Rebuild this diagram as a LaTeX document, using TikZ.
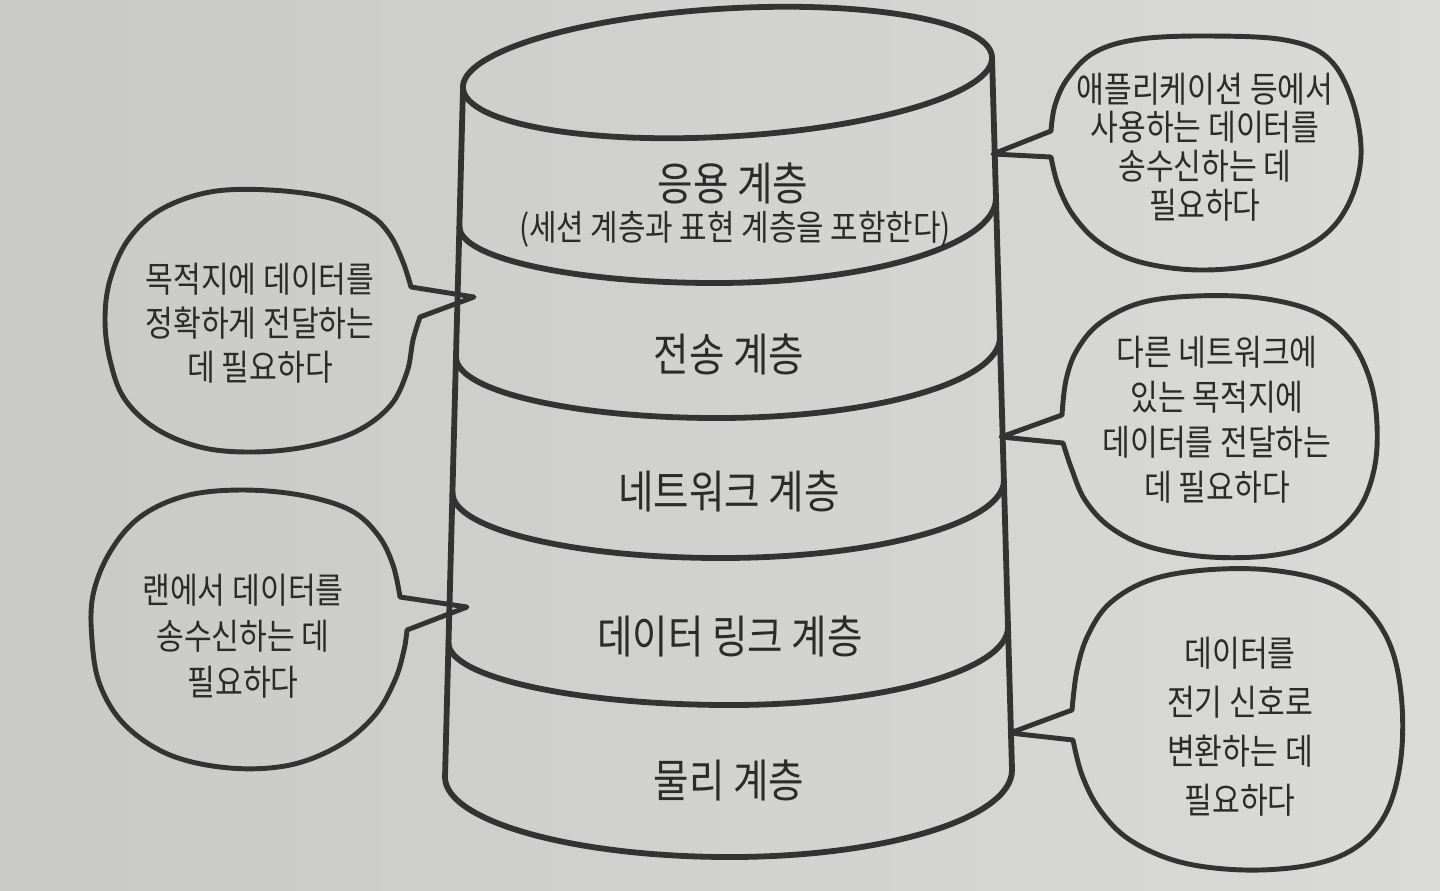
\documentclass[tikz,border=0pt]{standalone}
\usepackage{fontspec}
\newfontfamily\kr[FakeStretch=0.85]{Noto Sans CJK KR}
\definecolor{linecol}{HTML}{333333}
\definecolor{txtcol}{HTML}{2B2B2B}
\definecolor{bgL}{HTML}{C9C9C7}
\definecolor{bgR}{HTML}{DADAD8}
\begin{document}
\begin{tikzpicture}[x=0.01cm,y=-0.01cm,
  ln/.style={draw=linecol, line width=1.65pt, line cap=round, line join=round},
  bub/.style={draw=linecol, line width=1.4pt, line join=round},
  layer/.style={font=\kr\fontsize{12.9}{15}\selectfont, text=txtcol, inner sep=0pt},
  sublayer/.style={font=\kr\fontsize{10}{12}\selectfont, text=txtcol, inner sep=0pt},
  note/.style={align=center, text=txtcol, inner sep=0pt},
]
\shade[left color=bgL, right color=bgR] (0,0) rectangle (1440,890);
\useasboundingbox (0,0) rectangle (1440,890);

% cylinder
\coordinate (TL) at (463,88);
\coordinate (TR) at (992,57);
\coordinate (BL) at (445,777);
\coordinate (BR) at (1012,770);
\draw[ln] (TL) -- (BL);
\draw[ln] (TR) -- (BR);
\draw[ln, rotate around={3.35:(727.5,72.5)}] (727.5,72.5) ellipse [x radius=265, y radius=64];

\draw[ln] (459.5,227) .. controls (459.5,258) and (574,283) .. (715,283)
          .. controls (870,283) and (996,245) .. (996,198);
\draw[ln] (456,357) .. controls (456,391) and (573,418) .. (717,418)
          .. controls (873,418) and (1000,382) .. (1000,337);
\draw[ln] (452.5,493) .. controls (452.5,529) and (573,558) .. (721,558)
          .. controls (877,558) and (1004,523) .. (1004,480);
\draw[ln] (448.5,643) .. controls (448.5,677) and (575,705) .. (730,705)
          .. controls (884,705) and (1008,670) .. (1008,627);
\draw[ln] (BL) .. controls (445,821) and (573,857) .. (730,857)
          .. controls (886,857) and (1012,818) .. (BR);

% layer labels
\node[layer] (app) at (733,183) {응용 계층};
\node[sublayer] (appsub) at (735,229) {(세션 계층과 표현 계층을 포함한다)};
\node[layer] (trans) at (729,354) {전송 계층};
\node[layer] (netw) at (729,491) {네트워크 계층};
\node[layer] (dlink) at (730,636) {데이터 링크 계층};
\node[layer] (phys) at (729,780) {물리 계층};

% speech bubbles
\coordinate (t1) at (993,154);
\coordinate (t2) at (474,297);
\coordinate (t3) at (467,607);
\coordinate (t4) at (1001,437);
\coordinate (t5) at (1010,733);

\draw[bub] (t1) -- plot[smooth, tension=0.6] coordinates {(1051,157) (1058,185) (1073,215) (1100,243) (1140,262) (1200,270) (1265,263) (1318,240) (1348,205) (1361,155) (1352,100) (1328,58) (1285,40) (1210,36) (1140,39) (1095,52) (1068,78) (1055,105) (1051,131)} -- cycle;

\draw[bub] (t2) -- plot[smooth, tension=0.6] coordinates {(411,287) (403,262) (390,235) (370,215) (330,198) (270,190) (210,192) (160,210) (128,240) (110,280) (105,320) (110,360) (124,398) (155,428) (200,447) (250,452) (305,447) (355,432) (390,406) (407,372) (413,340) (420,317)} -- cycle;

\draw[bub] (t3) -- plot[smooth, tension=0.6] coordinates {(400,597) (393,565) (378,535) (350,510) (300,495) (240,490) (185,496) (140,517) (110,552) (93,595) (92,640) (100,685) (125,725) (170,755) (230,768) (290,765) (340,745) (375,715) (395,680) (404,650) (407,630)} -- cycle;

\draw[bub] (t4) -- plot[smooth, tension=0.6] coordinates {(1063,443) (1072,470) (1085,500) (1110,527) (1150,547) (1210,557) (1275,555) (1325,540) (1358,510) (1374,470) (1377,425) (1370,380) (1350,340) (1315,312) (1260,298) (1195,296) (1140,303) (1100,323) (1077,350) (1066,380) (1062,415)} -- cycle;

\draw[bub] (t5) -- plot[smooth, tension=0.6] coordinates {(1073,740) (1082,775) (1100,810) (1130,840) (1180,862) (1245,870) (1310,865) (1355,848) (1385,815) (1400,765) (1402,705) (1392,650) (1368,610) (1330,583) (1270,570) (1205,570) (1150,580) (1110,603) (1088,635) (1077,670) (1072,710)} -- cycle;

% bubble texts
\node[note, font=\kr\fontsize{10.1}{11}\selectfont] (n1) at (1205,147) {애플리케이션 등에서\\사용하는 데이터를\\송수신하는 데\\필요하다};
\node[note, font=\kr\fontsize{10.1}{12.5}\selectfont] (n2) at (260,323) {목적지에 데이터를\\정확하게 전달하는\\데 필요하다};
\node[note, font=\kr\fontsize{10.1}{13.1}\selectfont] (n3) at (243,636) {랜에서 데이터를\\송수신하는 데\\필요하다};
\node[note, font=\kr\fontsize{10.1}{12.8}\selectfont] (n4) at (1217,420) {다른 네트워크에\\있는 목적지에\\데이터를 전달하는\\데 필요하다};
\node[note, font=\kr\fontsize{10.1}{13.9}\selectfont] (n5) at (1240,727) {데이터를\\전기 신호로\\변환하는 데\\필요하다};
\end{tikzpicture}
\end{document}
